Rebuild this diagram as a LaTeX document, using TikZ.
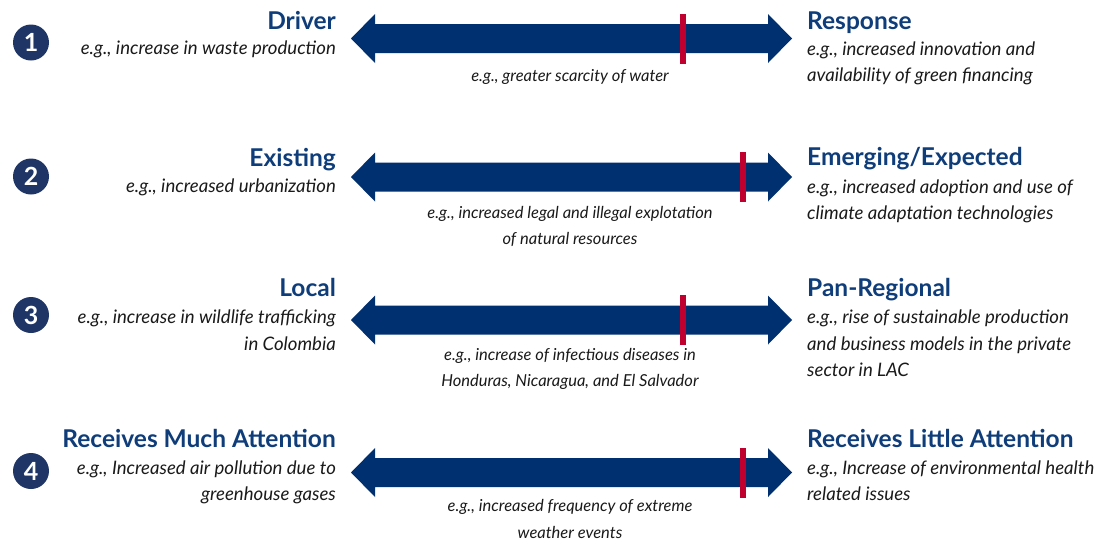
\documentclass[tikz,border=0pt]{standalone}
\usepackage{fontspec}
\setmainfont{Lato}
\definecolor{arrowblue}{HTML}{003070}
\definecolor{badge}{HTML}{1F3566}
\definecolor{titleblue}{HTML}{0E3D7A}
\definecolor{markred}{HTML}{C0002F}
\definecolor{txt}{HTML}{1A1A1A}
\tikzset{
  ttl/.style={font=\fontsize{24.5}{26}\selectfont\bfseries, text=titleblue, inner sep=0pt},
  subl/.style={font=\fontsize{18.6}{26.5}\selectfont\itshape, text=txt, inner sep=0pt, align=right},
  subr/.style={font=\fontsize{18.6}{26.5}\selectfont\itshape, text=txt, inner sep=0pt, align=left},
  mid/.style={font=\fontsize{16.5}{26.5}\selectfont\itshape, text=txt, inner sep=0pt, align=center},
  badgecirc/.style={circle, fill=badge, minimum size=36pt, inner sep=0pt, text=white, font=\fontsize{25}{25}\selectfont\bfseries},
  bigarrow/.style={fill=arrowblue, draw=none},
  marker/.style={fill=markred, draw=none}
}
\begin{document}
\begin{tikzpicture}[x=1pt,y=-1pt]
\useasboundingbox (0,0) rectangle (1098,544);
\fill[white] (0,0) rectangle (1098,544);
% arrows and markers
\foreach \c/\r in {38.5/683, 177/743, 320/683, 472.5/743}{
  \path[bigarrow] (351,\c) -- (375,\c-24.5) -- (375,\c-14.5) -- (768,\c-14.5) -- (768,\c-24.5) -- (792,\c)
     -- (768,\c+24.5) -- (768,\c+14.5) -- (375,\c+14.5) -- (375,\c+24.5) -- cycle;
  \path[marker] (\r-3,\c-25) rectangle (\r+3,\c+25);
}
% badges
\node[badgecirc] (b1) at (31,42.5) {1};
\node[badgecirc] (b2) at (31,176.5) {2};
\node[badgecirc] (b3) at (31,315) {3};
\node[badgecirc] (b4) at (31,471) {4};
% row 1 (base anchors refer to the last line of a multi-line node)
\node[ttl, anchor=base east] (l1t) at (336,29) {Driver};
\node[subl, anchor=base east] (l1s) at (336,54.5) {e.g., increase in waste production};
\node[ttl, anchor=base west] (r1t) at (807,29) {Response};
\node[subr, anchor=base west] (r1s) at (807,81.5) {e.g., increased innovation and\\availability of green financing};
\node[mid, anchor=base] (m1) at (570,81.5) {e.g., greater scarcity of water};
% row 2
\node[ttl, anchor=base east] (l2t) at (336,166) {Existing};
\node[subl, anchor=base east] (l2s) at (336,192.5) {e.g., increased urbanization};
\node[ttl, anchor=base west] (r2t) at (807,165.5) {Emerging/Expected};
\node[subr, anchor=base west] (r2s) at (807,219.5) {e.g., increased adoption and use of\\climate adaptation technologies};
\node[mid, anchor=base] (m2) at (570,244.5) {e.g., increased legal and illegal explotation\\of natural resources};
% row 3
\node[ttl, anchor=base east] (l3t) at (336,296.5) {Local};
\node[subl, anchor=base east] (l3s) at (336,350) {e.g., increase in wildlife trafficking\\in Colombia};
\node[ttl, anchor=base west] (r3t) at (807,296.5) {Pan-Regional};
\node[subr, anchor=base west] (r3s) at (807,376.5) {e.g., rise of sustainable production\\and business models in the private\\sector in LAC};
\node[mid, anchor=base] (m3) at (570,386.5) {e.g., increase of infectious diseases in\\Honduras, Nicaragua, and El Salvador};
% row 4
\node[ttl, anchor=base east] (l4t) at (336,447.5) {Receives Much Attention};
\node[subl, anchor=base east] (l4s) at (336,500.5) {e.g., Increased air pollution due to\\greenhouse gases};
\node[ttl, anchor=base west] (r4t) at (807,447.5) {Receives Little Attention};
\node[subr, anchor=base west] (r4s) at (807,500.5) {e.g., Increase of environmental health\\related issues};
\node[mid, anchor=base] (m4) at (570,538) {e.g., increased frequency of extreme\\weather events};
\end{tikzpicture}
\end{document}
